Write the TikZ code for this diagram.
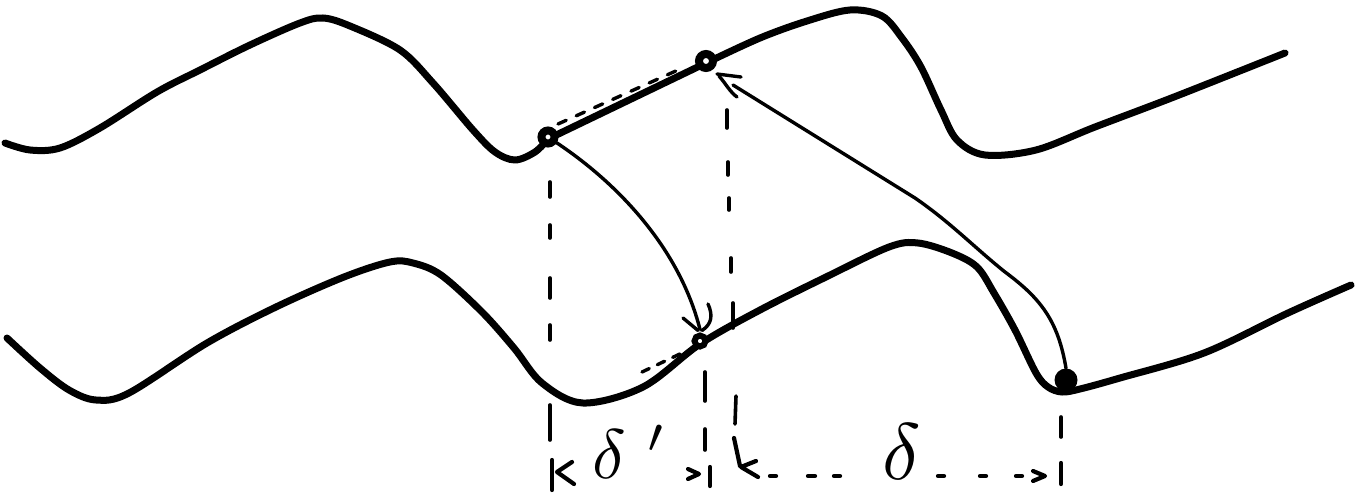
\documentclass[tikz,border=0pt]{standalone}
\usetikzlibrary{backgrounds}
\begin{document}
\begin{tikzpicture}[x=1pt,y=-1pt,
  wave/.style={line width=7pt, line cap=round, line join=round},
  conn/.style={line width=3.4pt, line cap=round, line join=round},
  guide/.style={line width=3.6pt, line cap=round},
  tick/.style={line width=4.2pt, line cap=round, line join=round},
  ring/.style={circle, draw, fill=white, line width=8pt, inner sep=0pt, minimum size=13pt},
  dot/.style={circle, fill=black, inner sep=0pt, minimum size=23pt},
  lbl/.style={inner sep=0pt}]
\useasboundingbox (0,0) rectangle (1359,495);

% points
\node[ring] (A) at (548,137) {};
\node[ring, minimum size=14pt] (B) at (706,61) {};
\node[ring, minimum size=11pt, line width=6pt] (C) at (700,341) {};
\node[dot] (D) at (1066,380) {};

\begin{pgfonlayer}{background}
% upper wave
\draw[wave] plot[smooth, tension=0.55] coordinates {(5,143) (30,150) (60,148) (100,128) (157,92) (200,70) (250,45) (300,23) (323,18) (350,26) (400,50) (433,83) (473,130) (495,152) (515,160) (535,152) (548,139)};
\draw[wave] (548,139) -- (706,63);
\draw[wave] plot[smooth, tension=0.55] coordinates {(706,63) (760,38) (807,21) (850,10) (882,16) (902,38) (921,67) (941,110) (957,140) (985,155) (1036,150) (1095,127) (1174,97) (1285,53)};
% lower wave
\draw[wave] plot[smooth, tension=0.55] coordinates {(7,338) (40,368) (69,390) (96,400) (129,393) (207,343) (276,307) (344,277) (390,262) (413,263) (441,275) (482,312) (514,348) (542,383) (583,403) (643,387) (700,344) (760,310) (826,277) (889,247) (918,243) (952,253) (977,267) (994,293) (1015,330) (1036,373) (1048,387) (1062,392) (1080,389) (1120,378) (1204,353) (1288,313) (1351,285)};
\end{pgfonlayer}

% arrow A -> C
\draw[conn] (A) .. controls (620,185) and (680,250) .. ([yshift=3pt]C.north);
\draw[conn] ([xshift=-2pt,yshift=2pt]C.north) -- (683,318);
\draw[conn] ([xshift=2pt,yshift=2pt]C.north) .. controls (712,324) and (713,315) .. (708,304);

% arrow D -> B
\draw[conn] (D.north) .. controls (1058,320) and (1040,298) .. (1005,272) .. controls (975,248) and (950,222) .. (915,198) -- (733,85);
\draw[conn] (717,74) -- (741,77);
\draw[conn] (719,76) .. controls (726,84) and (730,92) .. (737,97);

% dashed chords
\draw[conn, dash pattern=on 9pt off 11pt] ([shift={(10,-13)}]A.center) -- ([shift={(-28,9)}]B.center);
\draw[conn, dash pattern=on 8pt off 9pt] ([shift={(-58,31)}]C.center) -- ([shift={(-16,11)}]C.center);

% vertical guides
\foreach \a/\b in {182/197, 225/238, 278/298, 325/340, 405/440}
  \draw[guide] (550,\a) -- (550,\b);
\foreach \a/\b/\x in {110/128/727, 162/175/728, 198/210/729, 258/272/731, 303/328/733}
  \draw[guide] (\x,\a) -- (\x,\b);
\foreach \a/\b in {372/401, 429/450}
  \draw[guide] (705,\a) -- (705,\b);
\draw[guide] (736,396) -- (735,424);
\draw[guide] (1061,417) -- (1061,437);

% dimension marks: delta'
\draw[tick] (552,460) -- (552,490);
\draw[tick] (572,462) -- (557,472) -- (574,484);
\draw[tick] (688,469) -- (699,474) -- (688,479);
\draw[tick] (710,467) -- (710,486);
\node[lbl] (dp) at (630,452) {\scalebox{7}{$\delta^{\hspace{0.3em}\prime}$}};

% dimension marks: delta
\draw[tick] (734,438) -- (740,466);
\draw[tick] (756,461) -- (741,467) -- (758,477);
\foreach \a/\b in {770/776, 808/815, 834/840, 938/944, 980/986, 1016/1022}
  \draw[tick] (\a,476) -- (\b,476);
\draw[tick] (1033,471) -- (1045,476) -- (1033,481);
\draw[tick] (1061,463) -- (1061,484);
\node[lbl] (d) at (902,452) {\scalebox{8}{$\delta$}};
\end{tikzpicture}
\end{document}
